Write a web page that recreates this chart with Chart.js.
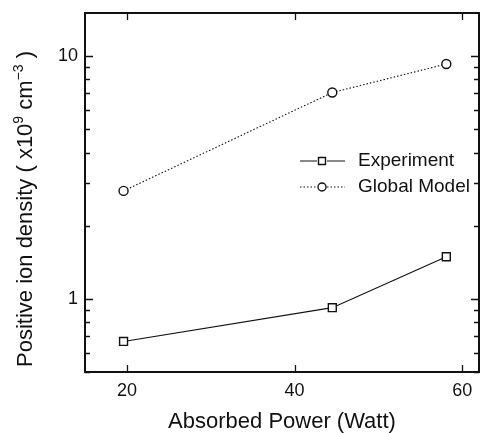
<!DOCTYPE html>
<html>
<head>
<meta charset="utf-8">
<script src="https://cdn.jsdelivr.net/npm/chart.js@4.4.0/dist/chart.umd.min.js"></script>
<style>
  html, body { margin: 0; padding: 0; background: #fff; }
  #wrap { width: 481px; height: 433px; }
</style>
</head>
<body>
<div id="wrap"><canvas id="ionChart" width="481" height="433"></canvas></div>
<script>
// absorbed power (W) and measured / modelled densities (x10^9 cm^-3)
const power = [19.6, 44.5, 58.1];
const experiment = [0.668, 0.92, 1.49];
const globalModel = [2.78, 7.06, 9.25];

const xTicks = [20, 40, 60];
const yTicks = [0.5, 0.6, 0.7, 0.8, 0.9, 1, 2, 3, 4, 5, 6, 7, 8, 9, 10];
const yLabels = [1, 10];

const FONT = '"Liberation Sans", Arial, sans-serif';
const INK = '#111';

function toPoints(vals) {
  return power.map(function (p, i) { return { x: p, y: vals[i] }; });
}

function noPad(scale) {
  scale.paddingLeft = 0;
  scale.paddingRight = 0;
  scale.paddingTop = 0;
  scale.paddingBottom = 0;
}

// box, inward ticks, legend and axis titles
const framePlugin = {
  id: 'frame',
  afterDraw: function (chart) {
    const ctx = chart.ctx;
    const a = chart.chartArea;
    const xs = chart.scales.x, ys = chart.scales.y;
    ctx.save();
    ctx.strokeStyle = INK;
    ctx.lineWidth = 2;
    ctx.strokeRect(a.left, a.top, a.right - a.left, a.bottom - a.top);

    ctx.lineWidth = 1.3;
    ctx.beginPath();
    xs.ticks.forEach(function (t) {
      const px = Math.round(xs.getPixelForValue(t.value)) + 0.5;
      ctx.moveTo(px, a.bottom); ctx.lineTo(px, a.bottom - 7);
      ctx.moveTo(px, a.top); ctx.lineTo(px, a.top + 7);
    });
    ys.ticks.forEach(function (t) {
      const py = Math.round(ys.getPixelForValue(t.value)) + 0.5;
      const len = yLabels.indexOf(t.value) >= 0 ? 8 : 5;
      ctx.moveTo(a.left, py); ctx.lineTo(a.left + len, py);
      ctx.moveTo(a.right, py); ctx.lineTo(a.right - len, py);
    });
    ctx.stroke();

    // legend
    ctx.font = '19px ' + FONT;
    ctx.fillStyle = INK;
    ctx.textBaseline = 'middle';
    ctx.textAlign = 'left';
    const rows = [
      { label: 'Experiment', y: 161, dash: [], mark: 'rect' },
      { label: 'Global Model', y: 187, dash: [1.5, 2], mark: 'circle' }
    ];
    rows.forEach(function (r) {
      ctx.lineWidth = 1.1;
      ctx.setLineDash(r.dash);
      ctx.beginPath();
      ctx.moveTo(300, r.y); ctx.lineTo(317, r.y);
      ctx.moveTo(327, r.y); ctx.lineTo(345, r.y);
      ctx.stroke();
      ctx.setLineDash([]);
      ctx.lineWidth = 1.4;
      ctx.beginPath();
      if (r.mark === 'rect') ctx.rect(318.5, r.y - 3.5, 7, 7);
      else ctx.arc(322, r.y, 4, 0, Math.PI * 2);
      ctx.stroke();
      ctx.fillText(r.label, 358, r.y);
    });

    // x title
    ctx.font = '22px ' + FONT;
    ctx.textAlign = 'center';
    ctx.textBaseline = 'alphabetic';
    ctx.fillText('Absorbed Power (Watt)', (a.left + a.right) / 2, 428);

    // y title with superscripts
    const parts = [
      { t: 'Positive ion density ( x10', sup: false },
      { t: '9', sup: true },
      { t: ' cm', sup: false },
      { t: '\u22123', sup: true },
      { t: ' )', sup: false }
    ];
    let total = 0;
    parts.forEach(function (p) {
      ctx.font = (p.sup ? '14px ' : '22px ') + FONT;
      p.w = ctx.measureText(p.t).width;
      total += p.w;
    });
    ctx.translate(32, 209);
    ctx.rotate(-Math.PI / 2);
    ctx.textAlign = 'left';
    let cx = -total / 2;
    parts.forEach(function (p) {
      ctx.font = (p.sup ? '14px ' : '22px ') + FONT;
      ctx.fillText(p.t, cx, p.sup ? -9 : 0);
      cx += p.w;
    });
    ctx.restore();
  }
};

new Chart(document.getElementById('ionChart'), {
  type: 'line',
  data: {
    datasets: [
      {
        label: 'Experiment',
        data: toPoints(experiment),
        borderColor: INK,
        borderWidth: 1.1,
        pointStyle: 'rect',
        pointRadius: 5.6,
        pointBorderWidth: 1.4,
        pointBackgroundColor: '#fff',
        pointBorderColor: INK,
        tension: 0
      },
      {
        label: 'Global Model',
        data: toPoints(globalModel),
        borderColor: INK,
        borderWidth: 1.1,
        borderDash: [1.5, 2],
        pointStyle: 'circle',
        pointRadius: 4.5,
        pointBorderWidth: 1.4,
        pointBackgroundColor: '#fff',
        pointBorderColor: INK,
        tension: 0
      }
    ]
  },
  options: {
    responsive: false,
    animation: false,
    layout: { autoPadding: false, padding: { top: 13, right: 2, left: 0, bottom: 0 } },
    plugins: { legend: { display: false }, tooltip: { enabled: false } },
    scales: {
      x: {
        type: 'linear',
        min: 15,
        max: 62,
        grid: { display: false, drawTicks: false },
        border: { display: false },
        afterBuildTicks: function (scale) {
          scale.ticks = xTicks.map(function (v) { return { value: v }; });
        },
        afterFit: function (scale) { scale.height = 61; noPad(scale); },
        ticks: {
          padding: 8,
          color: INK,
          font: { family: FONT, size: 18 },
          callback: function (v) { return String(v); }
        }
      },
      y: {
        type: 'logarithmic',
        min: 0.5,
        max: 15,
        grid: { display: false, drawTicks: false },
        border: { display: false },
        afterBuildTicks: function (scale) {
          scale.ticks = yTicks.map(function (v) { return { value: v }; });
        },
        afterFit: function (scale) { scale.width = 85; noPad(scale); },
        ticks: {
          padding: 7,
          color: INK,
          autoSkip: false,
          font: { family: FONT, size: 18 },
          callback: function (v) { return yLabels.indexOf(v) >= 0 ? String(v) : ''; }
        }
      }
    }
  },
  plugins: [framePlugin]
});
</script>
</body>
</html>
